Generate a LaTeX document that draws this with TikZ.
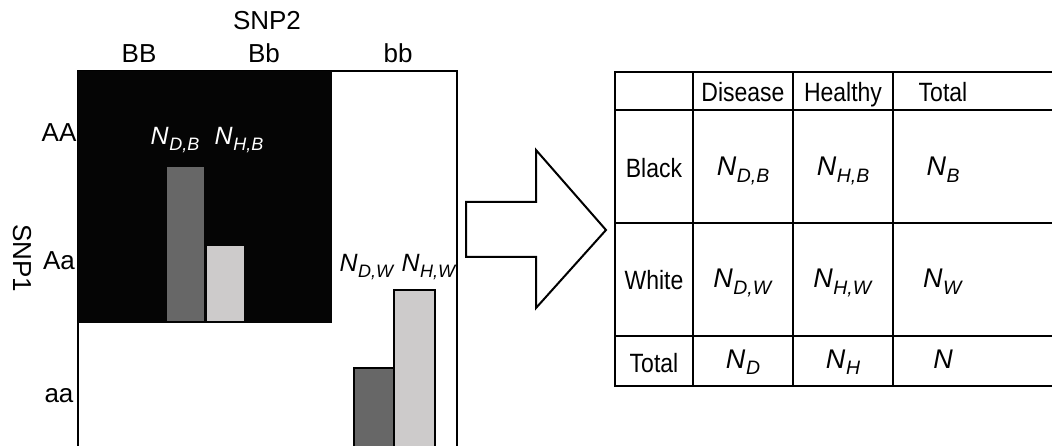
\documentclass[tikz,border=0pt]{standalone}
\usepackage{fontspec}
\setmainfont{Liberation Sans}
\newcommand\Nsb[1]{\textit{N}\kern0.02em\raisebox{-0.24em}{\scalebox{0.72}{\textit{#1}}}}
\newcommand\tallt[1]{\scalebox{1}[1.15]{#1}}
\definecolor{darkbar}{HTML}{676767}
\definecolor{lightbar}{HTML}{CDCBCB}
\begin{document}
\begin{tikzpicture}[x=1pt,y=-1pt,
  lbl/.style={inner sep=0pt,anchor=base,font=\fontsize{26}{30}\selectfont},
  plotN/.style={inner sep=0pt,anchor=base,font=\fontsize{25}{30}\selectfont},
  tbl/.style={inner sep=0pt,anchor=base,font=\fontsize{23}{28}\selectfont},
  tblN/.style={inner sep=0pt,anchor=base,font=\fontsize{27}{32}\selectfont},
  gridline/.style={line width=2pt},
  tline/.style={line width=2.2pt},
  barw/.style={draw=black,line width=2pt}]
\useasboundingbox (0,0) rectangle (1052,446);
\begin{scope}
\clip (0,0) rectangle (1052,446);
% grid
\draw[gridline] (78,460) -- (78,71) -- (457,71) -- (457,460);
\fill[black!98] (78,71) rectangle (332,323);
% black region bars
\fill[darkbar] (167,167) rectangle (204,321);
\fill[lightbar] (207,246) rectangle (244,321);
% white region bars
\draw[barw,fill=darkbar] (354,460) -- (354,368) -- (394,368) -- (394,460);
\draw[barw,fill=lightbar] (394,460) -- (394,290) -- (435,290) -- (435,460);
% arrow
\draw[line width=2pt,line join=miter] (466,202) -- (536,202) -- (536,150) -- (606,230) -- (536,308) -- (536,257) -- (466,257) -- cycle;
% table
\draw[tline] (1060,72) -- (615,72) -- (615,386) -- (1060,386);
\draw[tline] (615,110) -- (1060,110);
\draw[tline] (615,223) -- (1060,223);
\draw[tline] (615,336) -- (1060,336);
\draw[tline] (693,72) -- (693,386);
\draw[tline] (793,72) -- (793,386);
\draw[tline] (893,72) -- (893,386);
\end{scope}
% labels left
\node[lbl] (snp2) at (267,30) {SNP2};
\node[lbl] (cBB) at (139,63) {BB};
\node[lbl] (cBb) at (264,63) {Bb};
\node[lbl] (cbb) at (398,63) {bb};
\node[lbl] (rAA) at (59,142) {AA};
\node[lbl] (rAa) at (59,270) {Aa};
\node[lbl] (raa) at (59,402) {aa};
\node[inner sep=0pt,rotate=-90,font=\fontsize{26}{30}\selectfont] (snp1) at (22,258) {SNP1};
\node[plotN,text=white] (ndb) at (175,145) {\Nsb{D,B}};
\node[plotN,text=white] (nhb) at (239,145) {\Nsb{H,B}};
\node[plotN] (ndw) at (367,272) {\Nsb{D,W}};
\node[plotN] (nhw) at (429,272) {\Nsb{H,W}};
% table text
\node[tbl] (hD) at (743,102) {\tallt{Disease}};
\node[tbl] (hH) at (843,102) {\tallt{Healthy}};
\node[tbl] (hT) at (943,102) {\tallt{Total}};
\node[tbl] (rB) at (654,178) {\tallt{Black}};
\node[tbl] (rW) at (654,290) {\tallt{White}};
\node[tbl] (rT) at (654,372) {\tallt{Total}};
\node[tblN] (tdb) at (743,176) {\Nsb{D,B}};
\node[tblN] (thb) at (843,176) {\Nsb{H,B}};
\node[tblN] (tb) at (943,176) {\Nsb{B}};
\node[tblN] (tdw) at (743,288) {\Nsb{D,W}};
\node[tblN] (thw) at (843,288) {\Nsb{H,W}};
\node[tblN] (tw) at (943,288) {\Nsb{W}};
\node[tblN] (td) at (743,368) {\Nsb{D}};
\node[tblN] (th) at (843,368) {\Nsb{H}};
\node[tblN] (tn) at (943,368) {\textit{N}};
\end{tikzpicture}
\end{document}
